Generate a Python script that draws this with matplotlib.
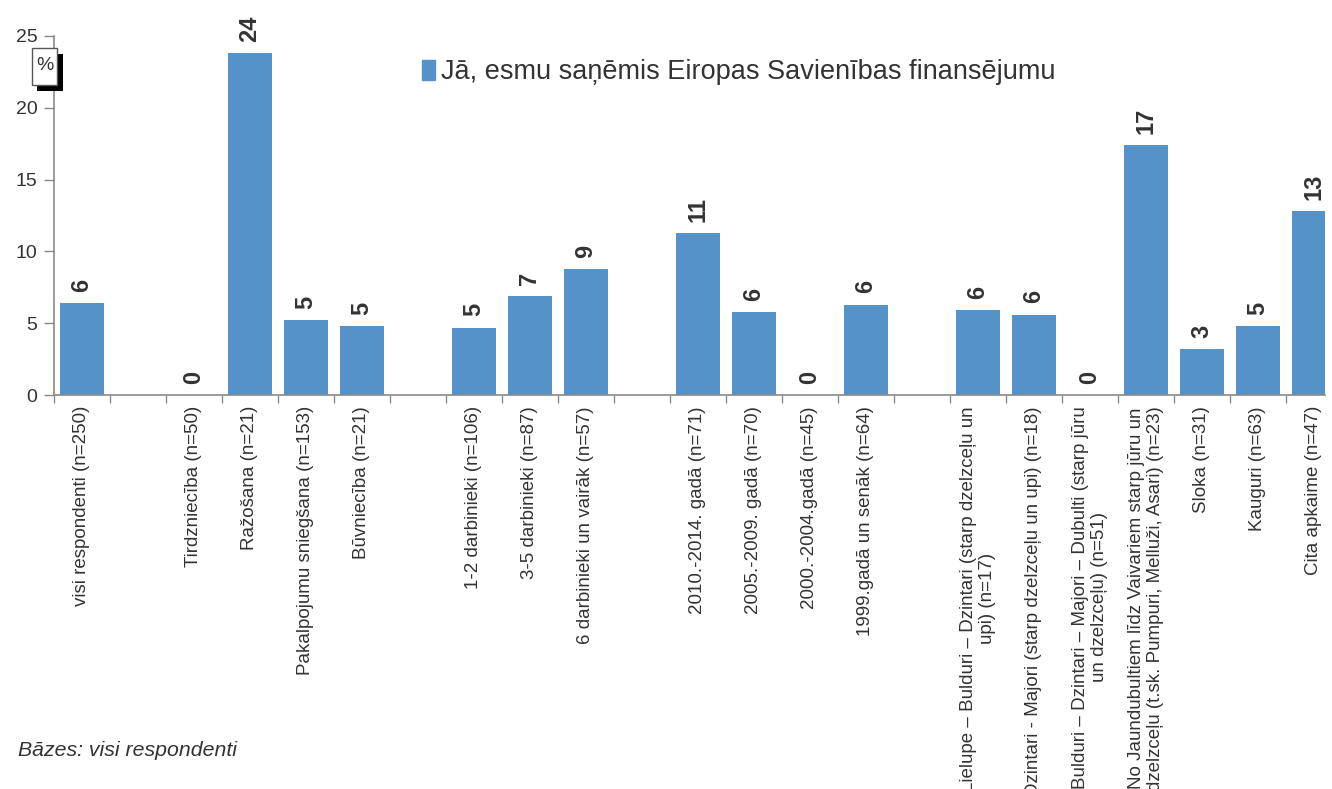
import numpy as np
import matplotlib
matplotlib.use('Agg')
import matplotlib.pyplot as plt
from matplotlib.patches import Rectangle

plt.rcParams['font.family'] = ['Liberation Sans', 'DejaVu Sans']

# dati (tukšās virknes = atstarpes starp grupām)
categories = [
    'visi respondenti (n=250)',
    '',
    'Tirdzniecība (n=50)',
    'Ražošana (n=21)',
    'Pakalpojumu sniegšana (n=153)',
    'Būvniecība (n=21)',
    '',
    '1-2 darbinieki (n=106)',
    '3-5 darbinieki (n=87)',
    '6 darbinieki un vairāk (n=57)',
    '',
    '2010.-2014. gadā (n=71)',
    '2005.-2009. gadā (n=70)',
    '2000.-2004.gadā (n=45)',
    '1999.gadā un senāk (n=64)',
    '',
    'Lielupe – Bulduri – Dzintari (starp dzelzceļu un\nupi) (n=17)',
    'Dzintari - Majori (starp dzelzceļu un upi) (n=18)',
    'Bulduri – Dzintari – Majori – Dubulti (starp jūru\nun dzelzceļu) (n=51)',
    'No Jaundubultiem līdz Vaivariem starp jūru un\ndzelzceļu (t.sk. Pumpuri, Melluži, Asari) (n=23)',
    'Sloka (n=31)',
    'Kauguri (n=63)',
    'Cita apkaime (n=47)',
]
values = [6.4, None, 0, 23.8, 5.2, 4.8, None, 4.7, 6.9, 8.8, None,
          11.3, 5.8, 0, 6.3, None, 5.9, 5.6, 0, 17.4, 3.2, 4.8, 12.8]
series_name = 'Jā, esmu saņēmis Eiropas Savienības finansējumu'
yticks = [0, 5, 10, 15, 20, 25]

bar_color = '#5592C8'
text_color = '#333333'
axis_color = '#8a8a8a'

W, H = 1332, 789
fig = plt.figure(figsize=(W / 100, H / 100), dpi=100)

# asis pikseļos: x no 54 līdz 1325, y no 395 (0) līdz 36 (25)
ax = fig.add_axes([54 / W, (H - 395) / H, (1325 - 54) / W, (395 - 36) / H])

x = np.arange(len(categories))
vals = np.array([np.nan if v is None else v for v in values], dtype=float)
mask = ~np.isnan(vals)

ax.bar(x[mask], vals[mask], width=0.78, color=bar_color, zorder=2)

for xi, v in zip(x[mask], vals[mask]):
    ax.annotate(f'{v:.0f}', (xi, v), xytext=(0, 8), textcoords='offset points',
                rotation=90, ha='center', va='bottom', fontsize=17,
                fontweight='bold', color=text_color)

ax.set_yticks(yticks)
ax.tick_params(axis='y', labelsize=14, colors=axis_color, labelcolor=text_color,
               length=7, width=1, pad=5)

ax.set_xticks(x)
ax.set_xticklabels(categories, rotation=90, fontsize=13.5, color=text_color,
                   multialignment='center')
ax.tick_params(axis='x', which='major', length=0, pad=8)
ax.set_xticks(np.arange(-0.5, len(categories)), minor=True)
ax.tick_params(axis='x', which='minor', length=6, width=1, colors=axis_color)

# robežas pēc tikšķu uzstādīšanas (set_xticks paplašina skatu)
ax.set_xlim(-0.5, 22.2)
ax.set_ylim(0, 25)

for side in ['top', 'right']:
    ax.spines[side].set_visible(False)
for side in ['left', 'bottom']:
    ax.spines[side].set_color(axis_color)
    ax.spines[side].set_linewidth(1.2)

# leģenda
leg = ax.legend([Rectangle((0, 0), 1, 1, color=bar_color)], [series_name],
                loc='upper left', bbox_to_anchor=(398 / W, 1 - 35 / H),
                bbox_transform=fig.transFigure, frameon=False, fontsize=19.5,
                handlelength=0.45, handleheight=0.8, handletextpad=0.25)
for t in leg.get_texts():
    t.set_color(text_color)

# "%" lodziņš ar ēnu
fig.patches.append(Rectangle((37 / W, 1 - 91 / H), 26 / W, 37 / H,
                             transform=fig.transFigure, facecolor='black',
                             edgecolor='none', zorder=5))
fig.patches.append(Rectangle((32 / W, 1 - 85 / H), 25 / W, 37 / H,
                             transform=fig.transFigure, facecolor='white',
                             edgecolor='#555555', linewidth=1, zorder=6))
fig.text(44.5 / W, 1 - 66 / H, '%', ha='center', va='center', fontsize=14,
         color=text_color, zorder=7)

fig.text(18 / W, 1 - 750 / H, 'Bāzes: visi respondenti', ha='left', va='center',
         fontsize=15.3, fontstyle='italic', color=text_color)

fig.savefig('out.png', dpi=100)
